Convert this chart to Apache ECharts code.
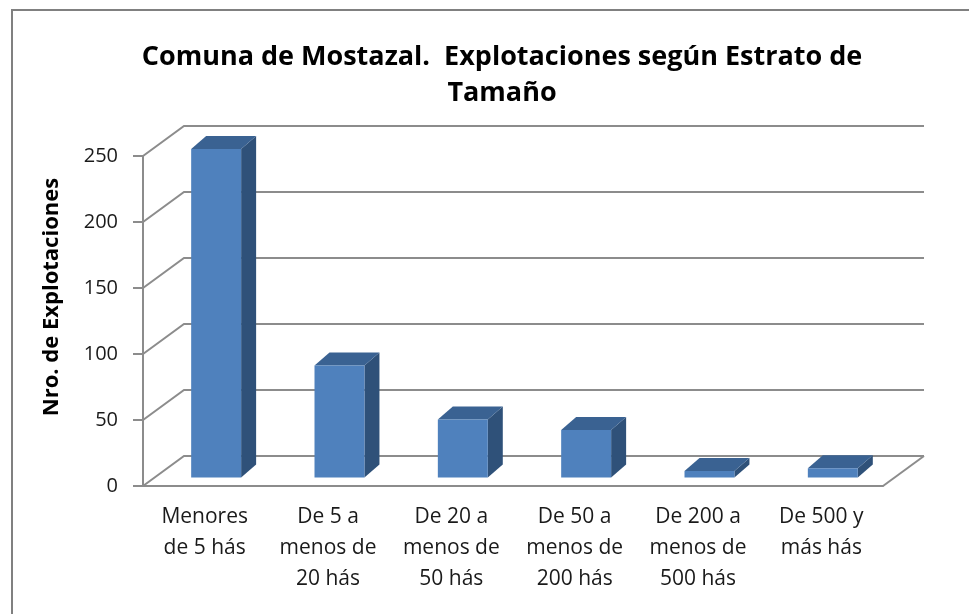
<!DOCTYPE html>
<html>
<head>
<meta charset="utf-8">
<script src="https://cdn.jsdelivr.net/npm/echarts@6/dist/echarts.min.js"></script>
<style>
  html, body { margin: 0; padding: 0; background: #ffffff; }
  #chart { width: 969px; height: 614px; }
</style>
</head>
<body>
<div id="chart"></div>
<script>
// ---- Data ----
const titleText = 'Comuna de Mostazal.  Explotaciones según Estrato de\nTamaño';
const yAxisName = 'Nro. de Explotaciones';
const categories = [
  'Menores\nde 5 hás',
  'De 5 a\nmenos de\n20 hás',
  'De 20 a\nmenos de\n50 hás',
  'De 50 a\nmenos de\n200 hás',
  'De 200 a\nmenos de\n500 hás',
  'De 500 y\nmás hás'
];
const values = [249, 85, 44, 36, 5, 7];
const yTicks = [0, 50, 100, 150, 200, 250];

// ---- Style constants (3D look) ----
const FONT = '"Open Sans", "Liberation Sans", sans-serif';
const WALL_DX = 41, WALL_DY = -30;      // depth of the box
const BAR_FRONT = 0.28;                  // bar front position within depth
const BAR_DX = 15, BAR_DY = -13;         // bar depth
const BAR_W = 0.405;                     // bar width as share of band
const GRID_COLOR = '#8c8c8c';

const chart = echarts.init(document.getElementById('chart'), null, { renderer: 'canvas' });

const option = {
  backgroundColor: '#ffffff',
  animation: false,
  title: {
    text: titleText,
    left: 497,
    top: 34,
    textAlign: 'center',
    textStyle: { fontFamily: FONT, fontSize: 27, fontWeight: 'bold', color: '#000', lineHeight: 36 }
  },
  graphic: [
    {
      type: 'rect',
      shape: { x: 12, y: 10, width: 980, height: 640 },
      style: { fill: null, stroke: '#808080', lineWidth: 2 },
      z: 100
    },
    {
      type: 'text',
      x: 52, y: 297,
      rotation: Math.PI / 2,
      style: {
        text: yAxisName,
        fontFamily: FONT, fontSize: 22, fontWeight: 'bold', fill: '#000',
        align: 'center', verticalAlign: 'middle'
      },
      z: 50
    }
  ],
  grid: { left: 143, right: 86, top: 156, bottom: 128, containLabel: false },
  xAxis: {
    type: 'category',
    data: categories,
    boundaryGap: true,
    axisLine: { show: true, lineStyle: { color: GRID_COLOR, width: 2 } },
    axisTick: { show: false },
    axisLabel: {
      interval: 0, margin: 16, fontFamily: FONT, fontSize: 21, color: '#1a1a1a', lineHeight: 31,
      verticalAlign: 'top'
    },
    splitLine: { show: false }
  },
  yAxis: {
    type: 'value',
    min: 0, max: 250, interval: 50,
    axisLine: { show: true, lineStyle: { color: GRID_COLOR, width: 2 } },
    axisTick: { show: true, length: 10, lineStyle: { color: GRID_COLOR, width: 2 } },
    axisLabel: { margin: 25, fontFamily: FONT, fontSize: 20, color: '#1a1a1a' },
    splitLine: { show: false }
  },
  series: [
    {
      type: 'custom',
      name: 'walls',
      z: 1,
      silent: true,
      data: yTicks.map(t => [0, t]),
      renderItem: function (params, api) {
        const cs = params.coordSys;
        const y = api.coord([0, api.value(1)])[1];
        const gx = cs.x, gw = cs.width;
        const children = [{
          type: 'polyline',
          shape: { points: [[gx, y], [gx + WALL_DX, y + WALL_DY], [gx + gw + WALL_DX, y + WALL_DY]] },
          style: { stroke: GRID_COLOR, lineWidth: 2, fill: null }
        }];
        if (api.value(1) === 0) {
          children.push({
            type: 'line',
            shape: { x1: gx + gw, y1: y, x2: gx + gw + WALL_DX, y2: y + WALL_DY },
            style: { stroke: GRID_COLOR, lineWidth: 2 }
          });
        }
        return { type: 'group', children: children };
      }
    },
    {
      type: 'custom',
      name: 'Explotaciones',
      z: 2,
      data: values.map((v, i) => [i, v]),
      renderItem: function (params, api) {
        const i = api.value(0), v = api.value(1);
        const c0 = api.coord([i, 0]);
        const c1 = api.coord([i, v]);
        const bw = api.size([1, 0])[0] * BAR_W;
        const fx = BAR_FRONT * WALL_DX, fy = BAR_FRONT * WALL_DY;
        const x0 = c0[0] - bw / 2 + fx, x1 = x0 + bw;
        const yb = c0[1] + fy, yt = c1[1] + fy;
        return {
          type: 'group',
          children: [
            {
              type: 'polygon',
              shape: { points: [[x1, yb], [x1, yt], [x1 + BAR_DX, yt + BAR_DY], [x1 + BAR_DX, yb + BAR_DY]] },
              style: { fill: '#2f5179' }
            },
            {
              type: 'polygon',
              shape: { points: [[x0, yt], [x1, yt], [x1 + BAR_DX, yt + BAR_DY], [x0 + BAR_DX, yt + BAR_DY]] },
              style: { fill: '#3a6292' }
            },
            {
              type: 'rect',
              shape: { x: x0, y: yt, width: bw, height: yb - yt },
              style: { fill: '#4f81bd' }
            }
          ]
        };
      }
    }
  ]
};

chart.setOption(option);
</script>
</body>
</html>
